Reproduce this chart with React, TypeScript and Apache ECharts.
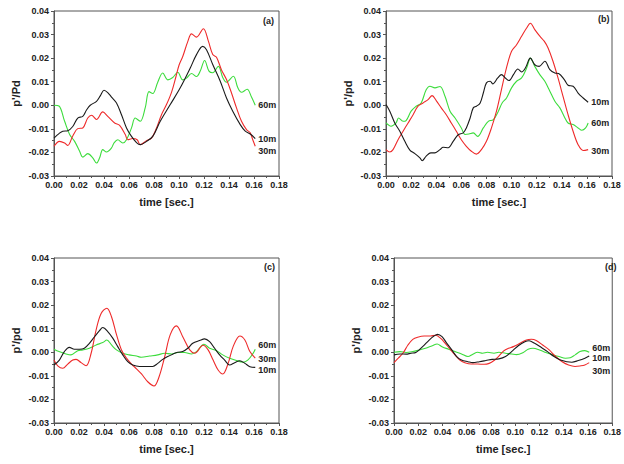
import React, { useEffect, useRef } from "react";
import * as echarts from "echarts";

// time [sec.], p'/pd pairs for each panel and probe depth
const a10 = [[0,-0.0139],[0.004,-0.012],[0.007,-0.011],[0.011,-0.0108],[0.015,-0.009],[0.019,-0.0054],[0.023,-0.0047],[0.026,-0.002],[0.029,0.0],[0.034,0.0017],[0.037,0.004],[0.040,0.0064],[0.043,0.0054],[0.046,0.0035],[0.050,0.001],[0.054,-0.004],[0.058,-0.0096],[0.062,-0.0132],[0.066,-0.0158],[0.069,-0.0167],[0.074,-0.0153],[0.079,-0.0132],[0.085,-0.0068],[0.093,0.0003],[0.101,0.0074],[0.109,0.0158],[0.114,0.0215],[0.119,0.025],[0.122,0.0236],[0.127,0.0173],[0.133,0.0102],[0.138,0.0031],[0.143,-0.0025],[0.149,-0.0082],[0.153,-0.011],[0.157,-0.0122],[0.161,-0.0141]];
const a30 = [[0,-0.0174],[0.0044,-0.0153],[0.0085,-0.016],[0.011,-0.017],[0.015,-0.013],[0.019,-0.0099],[0.023,-0.0096],[0.027,-0.0054],[0.030,-0.0042],[0.034,-0.006],[0.039,-0.0028],[0.043,-0.0047],[0.0485,-0.0075],[0.0525,-0.0085],[0.057,-0.0124],[0.059,-0.0146],[0.063,-0.0141],[0.0665,-0.0146],[0.069,-0.0167],[0.074,-0.015],[0.078,-0.0139],[0.0815,-0.0103],[0.086,-0.004],[0.090,0.0003],[0.094,0.0055],[0.0975,0.012],[0.100,0.017],[0.103,0.0207],[0.107,0.027],[0.110,0.0303],[0.114,0.0289],[0.1195,0.0325],[0.1235,0.0272],[0.127,0.0215],[0.130,0.0204],[0.134,0.015],[0.138,0.0109],[0.142,0.0052],[0.146,-0.0011],[0.150,-0.0068],[0.154,-0.0103],[0.157,-0.0117],[0.159,-0.0146],[0.161,-0.0174]];
const a60 = [[0,0],[0.004,-0.0003],[0.0085,-0.0068],[0.0125,-0.0124],[0.0165,-0.0153],[0.0205,-0.0195],[0.023,-0.022],[0.027,-0.0205],[0.031,-0.0223],[0.034,-0.0245],[0.0365,-0.0223],[0.039,-0.0188],[0.042,-0.0198],[0.046,-0.0181],[0.048,-0.016],[0.051,-0.0146],[0.055,-0.016],[0.058,-0.0146],[0.062,-0.0096],[0.065,-0.0054],[0.069,-0.0068],[0.073,-0.001],[0.076,0.0058],[0.079,0.005],[0.083,0.0098],[0.087,0.0137],[0.091,0.0108],[0.095,0.0118],[0.099,0.014],[0.103,0.0108],[0.106,0.0115],[0.110,0.0135],[0.114,0.0122],[0.117,0.0145],[0.1205,0.019],[0.124,0.0145],[0.127,0.0138],[0.1315,0.0165],[0.135,0.0118],[0.138,0.0098],[0.1435,0.0123],[0.147,0.0075],[0.150,0.0055],[0.1545,0.0068],[0.158,0.0035],[0.161,0.0]];

const b10 = [[0,0.0003],[0.003,-0.0025],[0.007,-0.0075],[0.011,-0.011],[0.015,-0.0153],[0.019,-0.019],[0.023,-0.0205],[0.027,-0.0223],[0.0288,-0.0235],[0.032,-0.0216],[0.0357,-0.0202],[0.039,-0.0202],[0.043,-0.0188],[0.0455,-0.0178],[0.0495,-0.018],[0.0535,-0.0153],[0.0575,-0.0125],[0.0615,-0.0117],[0.064,-0.0096],[0.067,-0.0054],[0.0695,-0.0011],[0.072,-0.0004],[0.075,0.001],[0.0775,0.0052],[0.080,0.0095],[0.083,0.0102],[0.085,0.0091],[0.089,0.0116],[0.092,0.013],[0.095,0.0116],[0.098,0.0105],[0.1015,0.013],[0.105,0.0154],[0.108,0.0141],[0.111,0.0158],[0.115,0.020],[0.1185,0.0172],[0.122,0.0165],[0.1265,0.0187],[0.1305,0.0151],[0.1345,0.0137],[0.1375,0.0135],[0.142,0.0109],[0.145,0.0085],[0.149,0.0081],[0.153,0.0052],[0.157,0.0031],[0.161,0.0013]];
const b30 = [[0,-0.0188],[0.003,-0.0198],[0.0056,-0.0188],[0.0096,-0.0146],[0.0136,-0.011],[0.0176,-0.0075],[0.0216,-0.004],[0.0255,-0.0004],[0.0295,0.001],[0.0335,0.0024],[0.0367,0.0041],[0.040,0.002],[0.044,-0.0011],[0.048,-0.004],[0.052,-0.0075],[0.056,-0.011],[0.060,-0.0146],[0.064,-0.0174],[0.068,-0.0195],[0.072,-0.0207],[0.076,-0.0188],[0.080,-0.0153],[0.084,-0.0096],[0.088,-0.0025],[0.092,0.0068],[0.096,0.016],[0.100,0.0229],[0.104,0.0257],[0.108,0.0293],[0.112,0.0328],[0.115,0.0348],[0.1185,0.0321],[0.1225,0.0293],[0.126,0.0272],[0.129,0.0244],[0.133,0.0187],[0.137,0.0116],[0.141,0.0038],[0.145,-0.004],[0.149,-0.011],[0.153,-0.0167],[0.157,-0.0192],[0.161,-0.0188]];
const b60 = [[0,-0.0075],[0.004,-0.0089],[0.008,-0.0075],[0.010,-0.0054],[0.0136,-0.0068],[0.016,-0.0065],[0.020,-0.0025],[0.024,-0.0004],[0.028,0.001],[0.032,0.0066],[0.035,0.0081],[0.039,0.0074],[0.043,0.008],[0.047,0.0038],[0.051,-0.0025],[0.055,-0.0054],[0.060,-0.0096],[0.063,-0.0124],[0.066,-0.0122],[0.0695,-0.0117],[0.073,-0.0132],[0.0775,-0.0096],[0.0815,-0.0068],[0.0855,-0.0061],[0.0895,-0.0025],[0.0925,0.001],[0.096,0.0031],[0.100,0.0074],[0.104,0.0102],[0.108,0.0116],[0.112,0.0158],[0.115,0.020],[0.1185,0.0165],[0.1225,0.013],[0.1265,0.0102],[0.1305,0.006],[0.1345,0.0017],[0.1385,-0.0011],[0.1425,-0.0054],[0.145,-0.0075],[0.149,-0.0082],[0.153,-0.0096],[0.156,-0.0106],[0.159,-0.0096],[0.161,-0.0075]];

const c10 = [[0,-0.0054],[0.0043,-0.0033],[0.0083,0.0003],[0.0123,0.0021],[0.0163,0.0013],[0.0203,0.0013],[0.0243,0.0017],[0.0283,0.0038],[0.0324,0.0066],[0.0364,0.0092],[0.039,0.0105],[0.043,0.0088],[0.047,0.006],[0.051,0.0024],[0.055,-0.0011],[0.059,-0.004],[0.063,-0.0054],[0.0685,-0.006],[0.0738,-0.006],[0.079,-0.006],[0.083,-0.0047],[0.087,-0.003],[0.091,-0.0018],[0.095,-0.0008],[0.099,0.0],[0.103,0.0003],[0.107,0.0017],[0.111,0.0038],[0.1165,0.005],[0.1205,0.0057],[0.1245,0.0045],[0.1285,0.0017],[0.1325,-0.0011],[0.1365,-0.0033],[0.1405,-0.0054],[0.1445,-0.0044],[0.1487,-0.0036],[0.1527,-0.0047],[0.1567,-0.0061],[0.161,-0.0064]];
const c30 = [[0,-0.0033],[0.003,-0.0058],[0.007,-0.0068],[0.011,-0.005],[0.015,-0.0033],[0.0177,-0.003],[0.0217,-0.0044],[0.0257,-0.0057],[0.0297,-0.0004],[0.0337,0.0095],[0.0377,0.0165],[0.0423,0.0187],[0.046,0.0151],[0.050,0.0075],[0.054,0.001],[0.058,-0.0025],[0.062,-0.005],[0.066,-0.007],[0.070,-0.0092],[0.075,-0.0125],[0.080,-0.0143],[0.084,-0.0105],[0.0885,-0.002],[0.093,0.0075],[0.098,0.0112],[0.103,0.0066],[0.1086,0.001],[0.1126,-0.0004],[0.1193,0.003],[0.1233,0.001],[0.1273,-0.0033],[0.1313,-0.0075],[0.135,-0.0092],[0.1393,-0.0047],[0.1433,0.0024],[0.1487,0.0069],[0.1527,0.0052],[0.1567,0.0003],[0.161,-0.0025]];
const c60 = [[0,0.0013],[0.004,0.0003],[0.0096,-0.0007],[0.0136,-0.0011],[0.019,0.0007],[0.023,0.001],[0.0283,0.0017],[0.0337,0.0031],[0.039,0.0041],[0.0423,0.0052],[0.046,0.0031],[0.050,0.001],[0.055,-0.0004],[0.060,-0.0011],[0.066,-0.0016],[0.0698,-0.0021],[0.0765,-0.0016],[0.083,-0.0011],[0.0885,-0.0004],[0.094,-0.0007],[0.099,-0.0001],[0.1045,-0.0001],[0.110,-0.0007],[0.114,0.0003],[0.120,0.0034],[0.1245,0.0017],[0.130,0.0007],[0.135,-0.0011],[0.1405,-0.0025],[0.146,-0.0035],[0.151,-0.0042],[0.155,-0.0033],[0.159,-0.0007],[0.161,0.0013]];

const d10 = [[0,-0.0011],[0.005,-0.0007],[0.010,-0.0008],[0.014,-0.0004],[0.018,-0.0001],[0.0236,0.0024],[0.029,0.0052],[0.033,0.0069],[0.036,0.0076],[0.0396,0.0066],[0.0436,0.0038],[0.0477,0.001],[0.0517,-0.0018],[0.0557,-0.0033],[0.061,-0.004],[0.065,-0.0044],[0.0704,-0.004],[0.0758,-0.0035],[0.081,-0.003],[0.0865,-0.0028],[0.092,-0.0018],[0.097,0.0003],[0.1025,0.0028],[0.1079,0.0045],[0.1114,0.0049],[0.116,0.0038],[0.1213,0.0021],[0.1266,0.0003],[0.132,-0.0018],[0.1373,-0.0033],[0.1426,-0.004],[0.1467,-0.0042],[0.152,-0.0035],[0.1575,-0.0025],[0.161,-0.0016]];
const d30 = [[0,-0.0044],[0.0035,-0.0025],[0.0075,-0.0003],[0.0115,0.0031],[0.0155,0.0055],[0.0195,0.0064],[0.0249,0.0069],[0.030,0.0069],[0.0343,0.0072],[0.0383,0.006],[0.0423,0.0038],[0.0463,0.0013],[0.0503,-0.0011],[0.0543,-0.0033],[0.0584,-0.0044],[0.0637,-0.005],[0.069,-0.005],[0.0744,-0.0051],[0.0785,-0.0047],[0.0825,-0.0035],[0.0865,-0.0016],[0.0905,0.0006],[0.0945,0.0017],[0.0985,0.0024],[0.1039,0.0038],[0.1092,0.0052],[0.1133,0.0055],[0.1173,0.005],[0.1226,0.0031],[0.128,0.001],[0.1333,-0.0018],[0.1387,-0.004],[0.144,-0.0054],[0.1493,-0.006],[0.1534,-0.0058],[0.1574,-0.0054],[0.161,-0.0044]];
const d60 = [[0,0.0],[0.005,0.0003],[0.010,-0.0001],[0.0155,0.0003],[0.021,0.001],[0.026,0.0017],[0.0316,0.0028],[0.0356,0.0035],[0.0396,0.0024],[0.045,0.0013],[0.0503,0.0003],[0.0557,-0.0007],[0.061,-0.0018],[0.065,-0.0008],[0.069,0.0],[0.0731,-0.0004],[0.0771,0.0],[0.0825,-0.0004],[0.0865,0.0],[0.092,-0.0004],[0.097,-0.0007],[0.101,-0.001],[0.1066,-0.0001],[0.1106,0.0013],[0.1146,0.0017],[0.120,0.001],[0.1253,-0.0001],[0.1306,-0.0011],[0.136,-0.0018],[0.1414,-0.0025],[0.1454,-0.0023],[0.1494,-0.0011],[0.1534,0.0003],[0.1574,0.0007],[0.161,0.0]];

const panelTags = ["(a)", "(b)", "(c)", "(d)"];
const yTitles = ["p'/Pd", "p'/pd", "p'/pd", "p'/pd"];
const xTitle = "time [sec.]";
const depthNames = ["10m", "30m", "60m"];
const panelSeries = [
  [a10, a30, a60],
  [b10, b30, b60],
  [c10, c30, c60],
  [d10, d30, d60],
];

const FONT = "'Liberation Sans', Arial, sans-serif";
const LINE_COLORS = ["#1a1a1a", "#ee2a2a", "#3cdc3c"];
const FRAME = "#555";

// plot area boxes (px) for the 2x2 layout
const grids = [
  { left: 54, top: 11, width: 225, height: 165 },
  { left: 386, top: 11, width: 226, height: 165 },
  { left: 54, top: 258, width: 225, height: 165 },
  { left: 394, top: 258, width: 224, height: 165 },
];
const tagPos = [
  { left: 263, top: 16 },
  { left: 598, top: 14 },
  { left: 264, top: 262 },
  { left: 605, top: 262 },
];
// vertical nudges for the end-of-line depth labels [10m, 30m, 60m]
const labelNudge = [
  [0, 5, 0],
  [0, 1, 0],
  [3, 1, -4],
  [2, 8, -4],
];

export default function App() {
  const ref = useRef<HTMLDivElement>(null);

  useEffect(() => {
    if (!ref.current) return;
    const chart = echarts.init(ref.current, null, { renderer: "svg" });

    const tickLabel = {
      fontFamily: FONT,
      fontWeight: "bold" as const,
      fontSize: 9,
      color: "#222",
    };
    const axisTitle = { fontFamily: FONT, fontWeight: "bold", fontSize: 11, color: "#222" };

    const option: any = {
      animation: false,
      backgroundColor: "#fff",
      title: panelTags.map((t, i) => ({
        text: t,
        left: tagPos[i].left,
        top: tagPos[i].top,
        padding: 0,
        textStyle: { fontFamily: FONT, fontWeight: "bold", fontSize: 9, color: "#222" },
      })),
      grid: grids.map((g) => ({
        ...g,
        show: true,
        borderColor: FRAME,
        borderWidth: 1,
        backgroundColor: "transparent",
      })),
      xAxis: grids.map((_, i) => ({
        type: "value",
        gridIndex: i,
        min: 0,
        max: 0.18,
        interval: 0.02,
        name: xTitle,
        nameLocation: "middle",
        nameGap: 20,
        nameTextStyle: axisTitle,
        axisLine: { show: true, onZero: false, lineStyle: { color: FRAME, width: 1 } },
        axisTick: { show: true, length: 3, lineStyle: { color: FRAME } },
        minorTick: { show: true, splitNumber: 2, length: 2, lineStyle: { color: FRAME } },
        splitLine: { show: false },
        axisLabel: { ...tickLabel, margin: 4, formatter: (v: number) => v.toFixed(2) },
      })),
      yAxis: grids.map((_, i) => ({
        type: "value",
        gridIndex: i,
        min: -0.03,
        max: 0.04,
        interval: 0.01,
        name: yTitles[i],
        nameLocation: "middle",
        nameGap: 33,
        nameTextStyle: axisTitle,
        axisLine: { show: true, onZero: false, lineStyle: { color: FRAME, width: 1 } },
        axisTick: { show: true, length: 3, lineStyle: { color: FRAME } },
        minorTick: { show: true, splitNumber: 2, length: 2, lineStyle: { color: FRAME } },
        splitLine: { show: false },
        axisLabel: { ...tickLabel, margin: 5, formatter: (v: number) => v.toFixed(2) },
      })),
      series: panelSeries.flatMap((set, p) =>
        set.map((data, k) => ({
          type: "line",
          name: depthNames[k],
          xAxisIndex: p,
          yAxisIndex: p,
          data,
          showSymbol: false,
          smooth: 0.35,
          z: k === 0 ? 4 : k === 1 ? 3 : 2,
          lineStyle: { color: LINE_COLORS[k], width: 1.1 },
          endLabel: {
            show: true,
            formatter: depthNames[k],
            distance: 3,
            offset: [0, labelNudge[p][k]],
            fontFamily: FONT,
            fontWeight: "bold",
            fontSize: 9,
            color: "#222",
          },
        }))
      ),
    };

    chart.setOption(option);
    return () => chart.dispose();
  }, []);

  return (
    <div
      ref={ref}
      style={{ position: "fixed", left: 0, top: 0, width: 624, height: 464 }}
    />
  );
}
